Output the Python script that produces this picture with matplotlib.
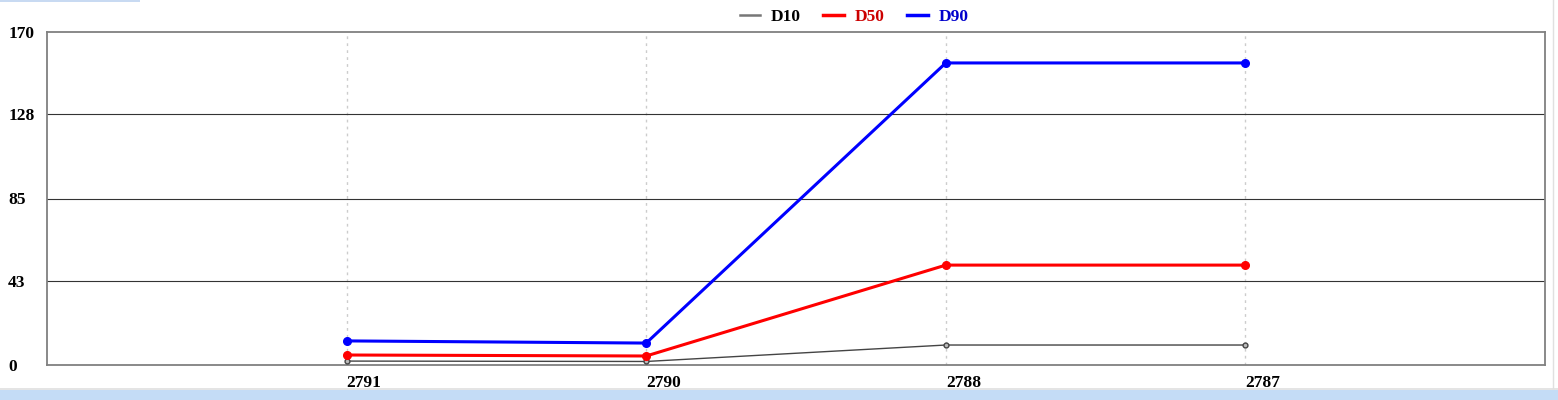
import matplotlib
matplotlib.use("Agg")
import matplotlib.pyplot as plt
from matplotlib.patches import Rectangle
from matplotlib.lines import Line2D

categories = ["2791", "2790", "2788", "2787"]
d10 = [2.0, 1.8, 10.2, 10.2]
d50 = [5.1, 4.6, 51.0, 51.0]
d90 = [12.3, 11.2, 154.2, 154.2]
yticks = [0, 43, 85, 128, 170]

W, H = 1558, 400
fig = plt.figure(figsize=(W / 100, H / 100), dpi=100)
fig.patch.set_facecolor("white")

# decorative strips
fig.patches.append(Rectangle((0, 0), 1, 10 / H, transform=fig.transFigure,
                             facecolor="#c4dcf6", edgecolor="none", zorder=0))
fig.patches.append(Rectangle((0, 10 / H), 1, 2 / H, transform=fig.transFigure,
                             facecolor="#e4e4e4", edgecolor="none", zorder=0))
fig.patches.append(Rectangle((0, 1 - 2 / H), 140 / W, 2 / H, transform=fig.transFigure,
                             facecolor="#c8daf2", edgecolor="none", zorder=0))
fig.lines.append(Line2D([1553 / W, 1553 / W], [12 / H, 1], transform=fig.transFigure,
                        color="#e0e0e0", lw=1))

left, right = 47 / W, 1545 / W
bottom, top = 1 - 365 / H, 1 - 32 / H
ax = fig.add_axes([left, bottom, right - left, top - bottom])

x = list(range(1, len(categories) + 1))
ax.set_xlim(0, len(categories) + 1)
ax.set_ylim(0, 170)

for xi in x:
    ax.axvline(xi, color="#cccccc", lw=1, ls=(0, (2, 3)), zorder=1)
for yt in yticks[1:-1]:
    ax.axhline(yt, color="#333333", lw=0.8, zorder=1)

ax.plot(x, d10, color="#444444", lw=1, marker="o", ms=3.5, mfc="#bbbbbb",
        mec="#444444", mew=1, zorder=3)
ax.plot(x, d50, color="#ff0000", lw=2.2, marker="o", ms=5.5, zorder=4)
ax.plot(x, d90, color="#0000ff", lw=2.2, marker="o", ms=5.5, zorder=5)

for s in ax.spines.values():
    s.set_color("#808080")
    s.set_linewidth(1.3)

ax.set_yticks(yticks)
ax.set_yticklabels([str(v) for v in yticks])
ax.set_xticks(x)
ax.set_xticklabels(categories, ha="left")
ax.tick_params(axis="both", length=0, labelsize=12.5)
ax.tick_params(axis="y", pad=28)
ax.tick_params(axis="x", pad=7)
for lab in ax.get_xticklabels() + ax.get_yticklabels():
    lab.set_fontfamily("Liberation Serif")
    lab.set_fontweight("bold")
for lab in ax.get_yticklabels():
    lab.set_horizontalalignment("left")

handles = [Line2D([], [], color="#777777", lw=1.8),
           Line2D([], [], color="#ff0000", lw=2.5),
           Line2D([], [], color="#0000ff", lw=2.5)]
leg = fig.legend(handles, ["D10", "D50", "D90"], loc="center",
                 bbox_to_anchor=(854 / W, 1 - 17 / H), ncol=3, frameon=False,
                 handlelength=1.2, handletextpad=0.6, columnspacing=1.3,
                 prop={"family": "Liberation Serif", "weight": "bold", "size": 12.5})
for t, c in zip(leg.get_texts(), ["#000000", "#cc0000", "#0000cc"]):
    t.set_color(c)

fig.savefig("out.png", dpi=100)
